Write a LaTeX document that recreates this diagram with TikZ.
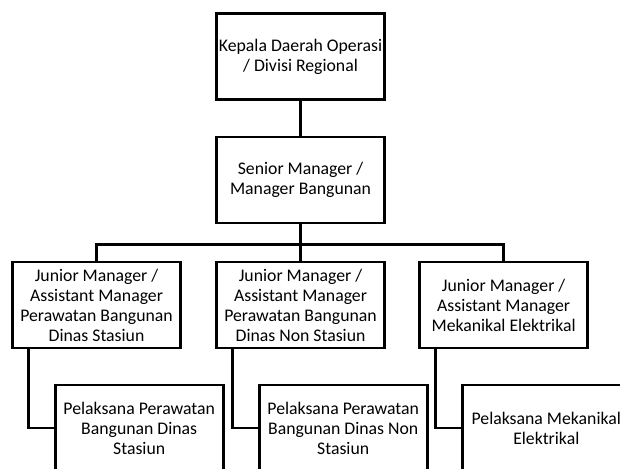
\documentclass[tikz,border=0pt]{standalone}
\usepackage{fontspec}
\setmainfont{Carlito}
\usepackage{tikz}
\usetikzlibrary{positioning}

\begin{document}
\begin{tikzpicture}[node distance=92.6pt, auto, line width=2pt]
        \tikzstyle{block} = [rectangle, draw, fill=white, align=center, minimum width=126pt, minimum height=64.5pt, inner sep=2pt, font=\fontsize{13.3pt}{15pt}\selectfont]
        \tikzstyle{line} = [draw]

        \useasboundingbox (0,0) rectangle (465pt,-351pt);
        \clip (0,0) rectangle (465pt,-351pt);

        \node [block] (kdo) at (225.4pt,-42.4pt) {Kepala Daerah Operasi\\/ Divisi Regional};
        \node [block, below of=kdo] (sm) {Senior Manager /\\Manager Bangunan};
        \node [block, below of=sm, node distance=93.75pt] (jm2) {Junior Manager /\\Assistant Manager\\Perawatan Bangunan\\Dinas Non Stasiun};
        \node [block, left of=jm2, node distance=153pt] (jm1) {Junior Manager /\\Assistant Manager\\Perawatan Bangunan\\Dinas Stasiun};
        \node [block, right of=jm2, node distance=152.3pt] (jm3) {Junior Manager /\\Assistant Manager\\Mekanikal Elektrikal};
        \node [block, below of=jm1, node distance=92.25pt, xshift=32pt] (pl1) {Pelaksana Perawatan\\Bangunan Dinas\\Stasiun};
        \node [block, below of=jm2, node distance=92.25pt, xshift=32pt] (pl2) {Pelaksana Perawatan\\Bangunan Dinas Non\\Stasiun};
        \node [block, below of=jm3, node distance=92.25pt, xshift=32pt] (pl3) {Pelaksana Mekanikal\\Elektrikal};

        \path [line] (kdo) -- (sm);
        \path [line] (sm.south) -- ++(0,-15pt) coordinate (bus);
        \path [line] (jm1.north) |- (bus) -| (jm3.north);
        \path [line] (bus) -- (jm2.north);
        \path [line] ([xshift=12.75pt]jm1.south west) |- (pl1.west);
        \path [line] ([xshift=12.75pt]jm2.south west) |- (pl2.west);
        \path [line] ([xshift=12.75pt]jm3.south west) |- (pl3.west);
    \end{tikzpicture}
\end{document}
